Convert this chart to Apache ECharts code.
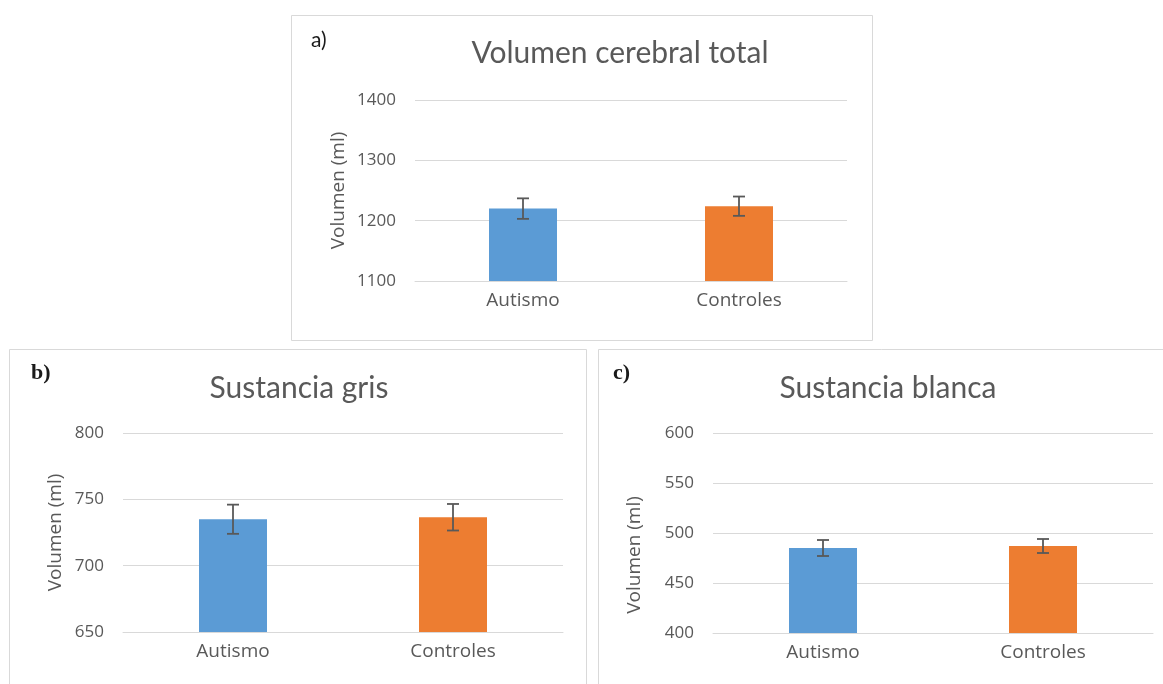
<!DOCTYPE html>
<html>
<head>
<meta charset="utf-8">
<script src="https://cdn.jsdelivr.net/npm/echarts@6/dist/echarts.min.js"></script>
<style>
  html, body { margin: 0; padding: 0; background: #fff; }
  #chart { width: 1163px; height: 684px; }
</style>
</head>
<body>
<div id="chart"></div>
<script>
const categories = ["Autismo", "Controles"];
const barColors = ["#5B9BD5", "#ED7D31"];

// a) volumen cerebral total
const totalMeans = [1220, 1224];
const totalErrors = [17, 16];
// b) sustancia gris
const grisMeans = [735, 736.5];
const grisErrors = [11, 10];
// c) sustancia blanca
const blancaMeans = [485, 487];
const blancaErrors = [8, 7];

const titles = ["Volumen cerebral total", "Sustancia gris", "Sustancia blanca"];
const panelTags = ["a)", "b)", "c)"];
const yTitle = "Volumen (ml)";

const TITLE_FONT = "Lato, sans-serif";
const FONT = "'Open Sans', sans-serif";
const TEXT = "#595959";
const GRID_LINE = "#D9D9D9";

const panels = [
  { means: totalMeans, errors: totalErrors, min: 1100, max: 1400, interval: 100,
    grid: { left: 415, right: 316, top: 100, bottom: 403 }, nameGap: 67, namePad: [0, 0, 0, 0],
    title: { x: 620, y: 38 }, tag: { x: 311, y: 30 }, tagFont: "21px Lato" },
  { means: grisMeans, errors: grisErrors, min: 650, max: 800, interval: 50,
    grid: { left: 123, right: 600, top: 433, bottom: 52 }, nameGap: 58, namePad: [0, 0, 0, 0],
    title: { x: 299, y: 373 }, tag: { x: 31, y: 362 }, tagFont: "bold 22px 'Liberation Serif'" },
  { means: blancaMeans, errors: blancaErrors, min: 400, max: 600, interval: 50,
    grid: { left: 713, right: 10, top: 433, bottom: 51 }, nameGap: 69, namePad: [0, 44, 0, 0],
    title: { x: 888, y: 373 }, tag: { x: 613, y: 362 }, tagFont: "bold 22px 'Liberation Serif'" },
];

function errorBarItem(params, api) {
  const x = api.value(0);
  const lo = api.coord([x, api.value(1)]);
  const hi = api.coord([x, api.value(2)]);
  const half = 6;
  const style = { stroke: "#595959", lineWidth: 1.8 };
  return {
    type: "group",
    children: [
      { type: "line", shape: { x1: lo[0], y1: lo[1], x2: hi[0], y2: hi[1] }, style },
      { type: "line", shape: { x1: lo[0] - half, y1: lo[1], x2: lo[0] + half, y2: lo[1] }, style },
      { type: "line", shape: { x1: hi[0] - half, y1: hi[1], x2: hi[0] + half, y2: hi[1] }, style },
    ],
  };
}

const option = {
  animation: false,
  backgroundColor: "#fff",
  title: panels.map((p, i) => ({
    text: titles[i],
    left: p.title.x,
    top: p.title.y,
    textAlign: "center",
    padding: 0,
    textStyle: { fontFamily: TITLE_FONT, fontSize: 30, fontWeight: "normal", color: TEXT },
  })),
  graphic: [
    { type: "rect", shape: { x: 291.5, y: 15.5, width: 581, height: 325 }, style: { fill: null, stroke: GRID_LINE, lineWidth: 1 } },
    { type: "rect", shape: { x: 9.5, y: 349.5, width: 577, height: 340 }, style: { fill: null, stroke: GRID_LINE, lineWidth: 1 } },
    { type: "rect", shape: { x: 598.5, y: 349.5, width: 570, height: 340 }, style: { fill: null, stroke: GRID_LINE, lineWidth: 1 } },
  ].concat(panels.map((p, i) => ({
    type: "text",
    left: p.tag.x,
    top: p.tag.y,
    style: { text: panelTags[i], font: p.tagFont, fill: "#1a1a1a" },
  }))),
  grid: panels.map((p) => p.grid),
  xAxis: panels.map((p, i) => ({
    type: "category",
    gridIndex: i,
    data: categories,
    axisLine: { lineStyle: { color: GRID_LINE, width: 1 } },
    axisTick: { show: false },
    axisLabel: { color: TEXT, fontFamily: FONT, fontSize: 19, margin: 10 },
  })),
  yAxis: panels.map((p, i) => ({
    type: "value",
    gridIndex: i,
    min: p.min,
    max: p.max,
    interval: p.interval,
    name: yTitle,
    nameLocation: "middle",
    nameRotate: 90,
    nameGap: p.nameGap,
    nameTextStyle: { color: TEXT, fontFamily: FONT, fontSize: 19, padding: p.namePad },
    axisLine: { show: false },
    axisTick: { show: false },
    axisLabel: { color: TEXT, fontFamily: FONT, fontSize: 17, margin: 19, formatter: (v) => String(v) },
    splitLine: { lineStyle: { color: GRID_LINE, width: 1 } },
  })),
  series: panels.flatMap((p, i) => [
    {
      type: "bar",
      xAxisIndex: i,
      yAxisIndex: i,
      barWidth: 68,
      data: p.means.map((v, j) => ({ value: v, itemStyle: { color: barColors[j] } })),
    },
    {
      type: "custom",
      xAxisIndex: i,
      yAxisIndex: i,
      renderItem: errorBarItem,
      encode: { x: 0, y: [1, 2] },
      data: p.means.map((v, j) => [j, v - p.errors[j], v + p.errors[j]]),
      z: 10,
    },
  ]),
};

echarts.init(document.getElementById("chart")).setOption(option);
</script>
</body>
</html>
